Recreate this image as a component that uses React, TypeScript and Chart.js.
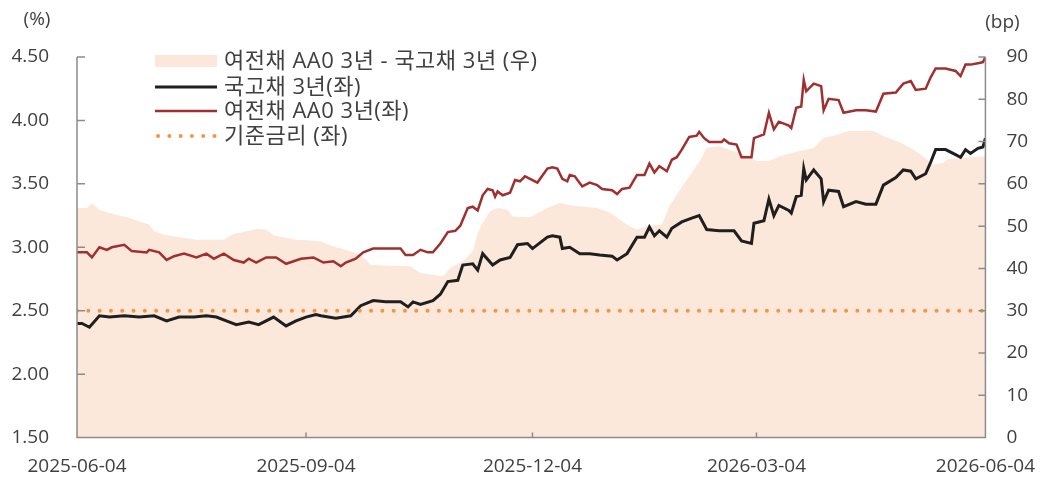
import React, { useEffect, useRef } from "react";
import { Chart, registerables } from "chart.js";

Chart.register(...registerables);

// ---- tick labels / axes ----
const xTickDays = [0, 92, 183, 273, 365];
const xTickLabels = ["2025-06-04", "2025-09-04", "2025-12-04", "2026-03-04", "2026-06-04"];
const leftTicks = [1.5, 2.0, 2.5, 3.0, 3.5, 4.0, 4.5];
const rightTicks = [0, 10, 20, 30, 40, 50, 60, 70, 80, 90];

// ---- series names ----
const seriesNames = ["여전채 AA0 3년 - 국고채 3년 (우)", "국고채 3년(좌)", "여전채 AA0 3년(좌)", "기준금리 (좌)"];

// ---- 국고채 3년 (%), days since 2025-06-04 ----
const ktbDays = [0, 2, 5, 9, 13, 19, 25, 31, 36, 41, 47, 52, 56, 60, 64, 69, 73, 79, 84, 88, 92, 96, 98, 104, 110, 114, 119, 124, 130, 133, 135, 138, 143, 146, 149, 153, 155, 159, 161, 163, 167, 170, 174, 177, 181, 183, 189, 191, 194, 195, 198, 202, 206, 210, 215, 217, 221, 225, 228, 230, 232, 234, 237, 239, 243, 247, 250, 253, 258, 264, 267, 271, 272, 276, 278, 280, 282, 286, 287, 289, 291, 292, 293, 296, 299, 300, 302, 306, 308, 313, 317, 321, 324, 329, 332, 335, 337, 341, 343, 345, 349, 353, 355, 357, 359, 362, 364, 365];
const ktbValues = [2.40, 2.40, 2.37, 2.46, 2.45, 2.46, 2.45, 2.46, 2.42, 2.45, 2.45, 2.46, 2.45, 2.42, 2.39, 2.41, 2.39, 2.45, 2.38, 2.42, 2.45, 2.47, 2.46, 2.44, 2.46, 2.54, 2.58, 2.57, 2.57, 2.53, 2.57, 2.55, 2.58, 2.63, 2.73, 2.74, 2.86, 2.87, 2.82, 2.95, 2.86, 2.90, 2.92, 3.02, 3.03, 2.99, 3.08, 3.09, 3.08, 2.99, 3.00, 2.95, 2.95, 2.94, 2.93, 2.90, 2.95, 3.08, 3.08, 3.16, 3.09, 3.13, 3.08, 3.15, 3.20, 3.23, 3.25, 3.14, 3.13, 3.13, 3.05, 3.03, 3.19, 3.21, 3.38, 3.25, 3.33, 3.29, 3.27, 3.40, 3.41, 3.62, 3.53, 3.61, 3.54, 3.36, 3.45, 3.44, 3.32, 3.36, 3.34, 3.34, 3.49, 3.55, 3.61, 3.60, 3.54, 3.58, 3.67, 3.77, 3.77, 3.73, 3.71, 3.77, 3.74, 3.78, 3.79, 3.86];

// ---- 여전채 AA0 3년 (%) ----
const creditDays = [0, 4, 6, 9, 12, 14, 19, 22, 28, 29, 33, 36, 39, 43, 48, 52, 55, 59, 63, 67, 69, 72, 76, 80, 84, 90, 95, 99, 103, 106, 108, 112, 115, 119, 130, 132, 135, 138, 141, 143, 146, 149, 152, 154, 157, 159, 161, 163, 165, 167, 168, 169, 171, 174, 176, 178, 180, 182, 185, 189, 191, 193, 195, 197, 198, 200, 203, 206, 209, 211, 215, 217, 219, 222, 225, 228, 230, 232, 234, 237, 239, 241, 243, 246, 249, 250, 252, 254, 259, 260, 262, 265, 267, 271, 272, 276, 278, 280, 282, 286, 287, 289, 291, 292, 293, 296, 299, 300, 302, 306, 308, 313, 317, 321, 324, 329, 332, 335, 337, 341, 343, 345, 349, 353, 355, 357, 359, 362, 364, 365];
const creditValues = [2.96, 2.96, 2.92, 3.00, 2.98, 3.00, 3.02, 2.97, 2.96, 2.98, 2.96, 2.90, 2.93, 2.95, 2.92, 2.95, 2.91, 2.95, 2.90, 2.88, 2.91, 2.88, 2.92, 2.92, 2.87, 2.91, 2.92, 2.88, 2.89, 2.85, 2.88, 2.91, 2.96, 2.99, 2.99, 2.94, 2.94, 2.98, 2.96, 2.96, 3.03, 3.12, 3.13, 3.17, 3.31, 3.32, 3.29, 3.41, 3.46, 3.45, 3.40, 3.44, 3.41, 3.43, 3.53, 3.52, 3.56, 3.54, 3.51, 3.62, 3.63, 3.62, 3.54, 3.52, 3.57, 3.56, 3.48, 3.51, 3.49, 3.46, 3.45, 3.42, 3.46, 3.47, 3.57, 3.57, 3.66, 3.59, 3.64, 3.60, 3.69, 3.71, 3.77, 3.87, 3.88, 3.91, 3.86, 3.83, 3.83, 3.85, 3.82, 3.81, 3.71, 3.71, 3.86, 3.89, 4.06, 3.93, 3.99, 3.96, 3.94, 4.10, 4.11, 4.32, 4.23, 4.29, 4.27, 4.08, 4.17, 4.16, 4.06, 4.08, 4.08, 4.07, 4.21, 4.22, 4.29, 4.31, 4.24, 4.25, 4.34, 4.41, 4.41, 4.39, 4.35, 4.44, 4.44, 4.45, 4.46, 4.50];

// ---- 스프레드 (bp, right axis) ----
const spreadDays = [0, 4, 6, 9, 13, 17, 21, 25, 29, 31, 35, 40, 48, 59, 63, 67, 72, 76, 79, 83, 88, 94, 98, 103, 108, 114, 118, 124, 134, 138, 143, 147, 150, 155, 159, 161, 163, 166, 169, 173, 175, 182, 189, 194, 199, 209, 214, 218, 222, 225, 229, 235, 238, 241, 245, 247, 251, 253, 258, 262, 266, 270, 273, 278, 282, 290, 296, 300, 304, 310, 320, 324, 331, 336, 340, 344, 348, 350, 356, 364, 365];
const spreadValues = [54.3, 54.3, 55.4, 53.8, 53.1, 52.5, 52.0, 51.1, 50.4, 48.8, 48.0, 47.5, 46.8, 46.8, 48.2, 48.6, 49.3, 49.2, 47.8, 47.4, 46.8, 46.6, 46.4, 45.2, 44.4, 43.2, 40.9, 40.7, 40.5, 38.9, 38.5, 38.1, 40.1, 41.7, 44.0, 48.4, 50.8, 53.5, 54.3, 53.9, 52.3, 52.1, 54.3, 55.5, 54.9, 54.3, 53.3, 51.6, 50.0, 49.2, 50.0, 50.4, 54.7, 57.5, 61.0, 62.6, 66.2, 68.5, 68.9, 68.1, 67.3, 66.5, 65.4, 65.4, 66.5, 67.7, 68.5, 70.9, 71.4, 72.5, 72.5, 71.3, 69.7, 68.1, 66.5, 64.6, 65.0, 65.8, 66.2, 66.5, 66.5];

// ---- 기준금리 (%) ----
const baseDays = [0, 365];
const baseValues = [2.5, 2.5];

// ---- styles ----
const AREA_COLOR = "#FCE8DA";
const KTB_COLOR = "#1F1F1F";
const CREDIT_COLOR = "#A0302F";
const BASE_COLOR = "#F39643";
const AXIS_COLOR = "#8C8C8C";
const TEXT_COLOR = "#404040";
const TICK_FONT = "Open Sans";
const LEGEND_FONT = "'Open Sans', 'Noto Sans CJK KR', sans-serif";

const pts = (xs: number[], ys: number[]) => xs.map((x, i) => ({ x, y: ys[i] }));

const overlayPlugin = {
  id: "overlay",
  afterDatasetsDraw(chart: any) {
    const { ctx, chartArea: a, scales } = chart;
    ctx.save();
    ctx.strokeStyle = AXIS_COLOR;
    ctx.lineWidth = 1.5;
    ctx.beginPath();
    ctx.moveTo(a.left, a.top);
    ctx.lineTo(a.left, a.bottom);
    ctx.lineTo(a.right, a.bottom);
    ctx.lineTo(a.right, a.top);
    for (const v of leftTicks) {
      const y = scales.y.getPixelForValue(v);
      ctx.moveTo(a.left, y);
      ctx.lineTo(a.left + 8, y);
    }
    for (const v of rightTicks) {
      const y = scales.y1.getPixelForValue(v);
      ctx.moveTo(a.right - 7, y);
      ctx.lineTo(a.right, y);
    }
    for (const d of xTickDays) {
      const x = scales.x.getPixelForValue(d);
      ctx.moveTo(x, a.bottom);
      ctx.lineTo(x, a.bottom - 5);
    }
    ctx.stroke();
    ctx.restore();
  },
  afterDraw(chart: any) {
    const { ctx, chartArea: a } = chart;
    ctx.save();
    // unit labels
    ctx.fillStyle = TEXT_COLOR;
    ctx.font = `19px ${TICK_FONT}`;
    ctx.textBaseline = "middle";
    ctx.textAlign = "center";
    ctx.fillText("(%)", a.left - 40, 20);
    ctx.fillText("(bp)", a.right + 17, 23);

    // legend
    const lx = a.left + 78;
    const sw = 62;
    const tx = lx + 69;
    const rows = [a.top + 4, a.top + 30, a.top + 54, a.top + 79];
    ctx.fillStyle = AREA_COLOR;
    ctx.fillRect(lx, rows[0] - 6, sw, 12);
    ctx.lineCap = "butt";
    ctx.strokeStyle = KTB_COLOR;
    ctx.lineWidth = 3;
    ctx.beginPath();
    ctx.moveTo(lx, rows[1]);
    ctx.lineTo(lx + sw, rows[1]);
    ctx.stroke();
    ctx.strokeStyle = CREDIT_COLOR;
    ctx.lineWidth = 2.5;
    ctx.beginPath();
    ctx.moveTo(lx, rows[2]);
    ctx.lineTo(lx + sw, rows[2]);
    ctx.stroke();
    ctx.strokeStyle = BASE_COLOR;
    ctx.lineWidth = 4;
    ctx.lineCap = "round";
    ctx.setLineDash([0.01, 11.3]);
    ctx.beginPath();
    ctx.moveTo(lx + 3, rows[3]);
    ctx.lineTo(lx + sw, rows[3]);
    ctx.stroke();
    ctx.setLineDash([]);

    ctx.fillStyle = TEXT_COLOR;
    ctx.font = `22px ${LEGEND_FONT}`;
    try {
      (ctx as any).letterSpacing = "0.5px";
    } catch (e) {
      /* ignore */
    }
    ctx.textAlign = "left";
    ctx.textBaseline = "middle";
    seriesNames.forEach((n, i) => ctx.fillText(n, tx, rows[i] + 1));
    ctx.restore();
  },
};

export default function App() {
  const ref = useRef<HTMLCanvasElement | null>(null);
  useEffect(() => {
    if (!ref.current) return;
    const chart = new Chart(ref.current, {
      type: "line",
      data: {
        datasets: [
          {
            label: seriesNames[3],
            data: pts(baseDays, baseValues),
            yAxisID: "y",
            borderColor: BASE_COLOR,
            borderWidth: 4,
            borderDash: [0.01, 11.3],
            borderCapStyle: "round",
            pointRadius: 0,
            fill: false,
            order: 1,
          },
          {
            label: seriesNames[2],
            data: pts(creditDays, creditValues),
            yAxisID: "y",
            borderColor: CREDIT_COLOR,
            borderWidth: 2.5,
            pointRadius: 0,
            tension: 0,
            fill: false,
            order: 2,
          },
          {
            label: seriesNames[1],
            data: pts(ktbDays, ktbValues),
            yAxisID: "y",
            borderColor: KTB_COLOR,
            borderWidth: 3,
            pointRadius: 0,
            tension: 0,
            fill: false,
            order: 3,
          },
          {
            label: seriesNames[0],
            data: pts(spreadDays, spreadValues),
            yAxisID: "y1",
            borderColor: "rgba(0,0,0,0)",
            borderWidth: 0,
            backgroundColor: AREA_COLOR,
            pointRadius: 0,
            tension: 0,
            fill: "origin",
            order: 10,
          },
        ] as any,
      },
      options: {
        animation: false,
        responsive: true,
        maintainAspectRatio: false,
        devicePixelRatio: 1,
        layout: { padding: { top: 57, left: 0, right: 0, bottom: 0 } },
        plugins: { legend: { display: false }, tooltip: { enabled: false } },
        scales: {
          x: {
            type: "linear",
            min: 0,
            max: 365,
            grid: { display: false, drawTicks: false },
            border: { display: false },
            afterBuildTicks: (s: any) => {
              s.ticks = xTickDays.map((v) => ({ value: v }));
            },
            afterFit: (s: any) => {
              s.height = 39;
            },
            ticks: {
              autoSkip: false,
              maxRotation: 0,
              padding: 18,
              color: TEXT_COLOR,
              font: { family: TICK_FONT, size: 19 },
              callback: (v: any) => xTickLabels[xTickDays.indexOf(Number(v))] ?? "",
            },
          },
          y: {
            type: "linear",
            position: "left",
            min: 1.5,
            max: 4.5,
            grid: { display: false, drawTicks: false },
            border: { display: false },
            afterBuildTicks: (s: any) => {
              s.ticks = leftTicks.map((v) => ({ value: v }));
            },
            afterFit: (s: any) => {
              s.width = 77;
            },
            ticks: {
              padding: 28,
              color: TEXT_COLOR,
              font: { family: TICK_FONT, size: 19 },
              callback: (v: any) => Number(v).toFixed(2),
            },
          },
          y1: {
            type: "linear",
            position: "right",
            min: 0,
            max: 90,
            grid: { display: false, drawTicks: false },
            border: { display: false },
            afterBuildTicks: (s: any) => {
              s.ticks = rightTicks.map((v) => ({ value: v }));
            },
            afterFit: (s: any) => {
              s.width = 66;
            },
            ticks: {
              padding: 21,
              color: TEXT_COLOR,
              font: { family: TICK_FONT, size: 19 },
              callback: (v: any) => String(v),
            },
          },
        } as any,
      },
      plugins: [overlayPlugin],
    });
    return () => chart.destroy();
  }, []);

  return (
    <div style={{ position: "fixed", left: 0, top: 0, width: 1053, height: 477, background: "#fff" }}>
      <canvas ref={ref} />
    </div>
  );
}
